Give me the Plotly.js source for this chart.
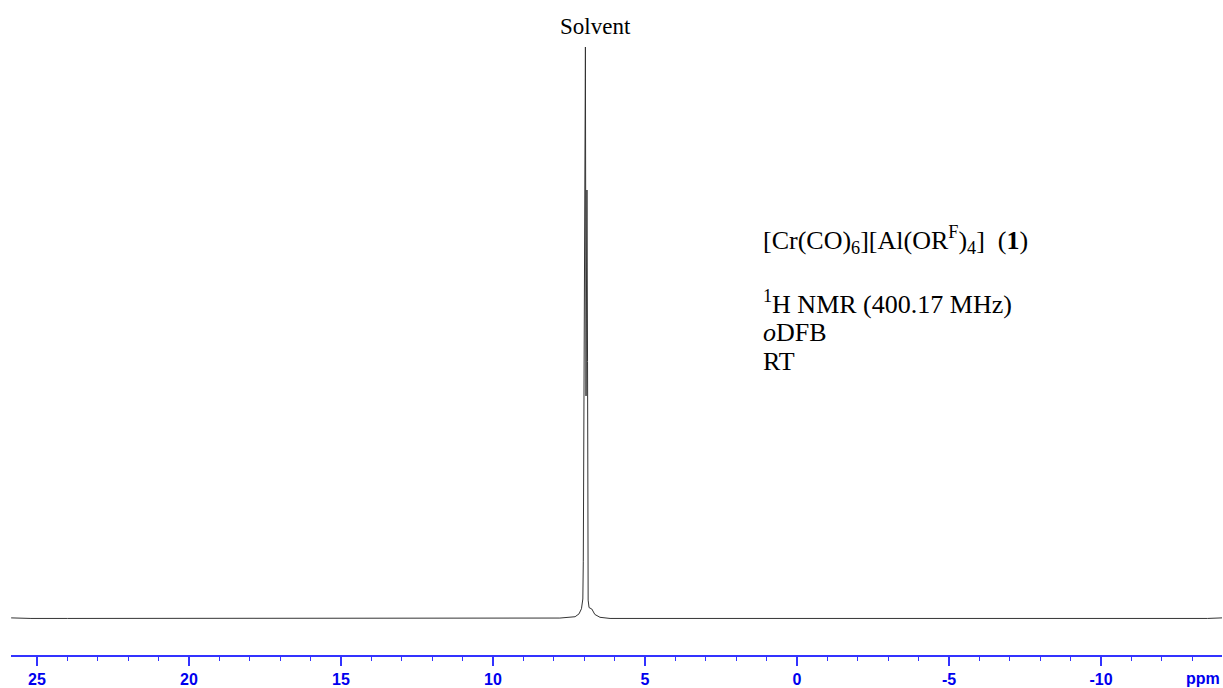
<!DOCTYPE html>
<html>
<head>
<meta charset="utf-8">
<script src="https://cdn.plot.ly/plotly-3.0.1.min.js"></script>
<style>html,body{margin:0;padding:0;background:#fff;}#chart{width:1223px;height:688px;}</style>
</head>
<body>
<div id="chart"></div>
<script>
// Chemical shift (ppm) and relative intensity
const shiftPpm = [25.85, 25.2, 24.0, 22.0, 20.0, 18.0, 16.0, 14.5, 14.0, 13.7, 13.4, 13.1, 12.8, 12.5, 12.2, 11.9, 11.6, 11.3, 11.0, 10.0, 9.0, 8.5, 7.8, 7.3, 7.17, 7.09, 7.045, 7.03, 6.99, 6.96, 6.94, 6.91, 6.89, 6.87, 6.84, 6.75, 6.65, 6.48, 6.15, 5.6, 5.0, 4.7, 4.4, 4.1, 3.8, 3.5, 3.2, 2.5, 1.0, -2.0, -5.0, -8.0, -11.0, -13.5, -13.98];
const intensity = [0.002, 0.001, 0.001, 0.001, 0.001, 0.001, 0.001, 0.001, 0.0015, 0.0006, 0.0015, 0.0006, 0.0015, 0.0006, 0.0015, 0.0006, 0.0015, 0.0006, 0.001, 0.001, 0.001, 0.001, 0.0017, 0.004, 0.009, 0.018, 0.035, 0.10, 0.75, 1.0, 0.39, 0.75, 0.45, 0.033, 0.02, 0.0175, 0.008, 0.003, 0.001, 0.001, 0.0015, 0.0006, 0.0015, 0.0006, 0.0015, 0.0006, 0.001, 0.001, 0.001, 0.001, 0.001, 0.001, 0.001, 0.001, 0.002];
const tickValues = [25, 20, 15, 10, 5, 0, -5, -10];
const tickLabels = ["25", "20", "15", "10", "5", "0", "-5", "-10"];
const solventLabel = "Solvent";
const infoLines = [
  "[Cr(CO)<sub>6</sub>][Al(OR<sup>F</sup>)<sub>4</sub>]&nbsp; (<b>1</b>)",
  "<sup>1</sup>H NMR (400.17 MHz)",
  "<i>o</i>DFB",
  "RT"
];
const unitLabel = "ppm";

// pixel helpers for layout placement
const W = 1223, H = 688, ML = 11, MR = 1, MT = 10, MB = 33;
const px = x => (x - ML) / (W - ML - MR);
const py = y => (H - MB - y) / (H - MB - MT);

const infoY = [240, 302, 332, 361];
const annotations = infoLines.map((t, i) => ({
  text: t, xref: 'paper', yref: 'paper', x: px(761), y: py(infoY[i]),
  xanchor: 'left', yanchor: 'middle', showarrow: false,
  font: {family: 'Liberation Serif, Times New Roman, serif', size: 26, color: '#000'}
}));
annotations.push({
  text: solventLabel, xref: 'paper', yref: 'paper', x: px(595), y: py(27),
  xanchor: 'center', yanchor: 'middle', showarrow: false,
  font: {family: 'Liberation Serif, Times New Roman, serif', size: 23, color: '#000'}
});
annotations.push({
  text: '<b>' + unitLabel + '</b>', xref: 'paper', yref: 'paper', x: px(1203), y: py(678),
  xanchor: 'center', yanchor: 'middle', showarrow: false,
  font: {family: 'Liberation Sans, Arial, sans-serif', size: 16, color: '#0000ee'}
});

const trace = {
  x: shiftPpm, y: intensity, type: 'scatter', mode: 'lines',
  line: {color: '#333333', width: 1}, hoverinfo: 'skip'
};

const layout = {
  width: W, height: H,
  margin: {l: ML, r: MR, t: MT, b: MB, pad: 0},
  paper_bgcolor: '#fff', plot_bgcolor: '#fff',
  showlegend: false,
  xaxis: {
    range: [25.855, -13.98], autorange: false,
    showline: true, linecolor: '#3333ff', linewidth: 1.5,
    showgrid: false, zeroline: false,
    ticks: 'outside', ticklen: 9, tickwidth: 1.5, tickcolor: '#3333ff',
    tickmode: 'array', tickvals: tickValues, ticktext: tickLabels.map(t => '<b>' + t + '</b>'),
    tickfont: {family: 'Liberation Sans, Arial, sans-serif', size: 16, color: '#0000ee'},
    minor: {dtick: 1, ticklen: 4, tickwidth: 1, tickcolor: '#3333ff', showgrid: false, ticks: 'outside'}
  },
  yaxis: {
    range: [-0.0629, 1.0647], autorange: false, visible: false,
    showgrid: false, zeroline: false
  },
  annotations: annotations
};

Plotly.newPlot('chart', [trace], layout, {displayModeBar: false, staticPlot: true});
</script>
</body>
</html>
